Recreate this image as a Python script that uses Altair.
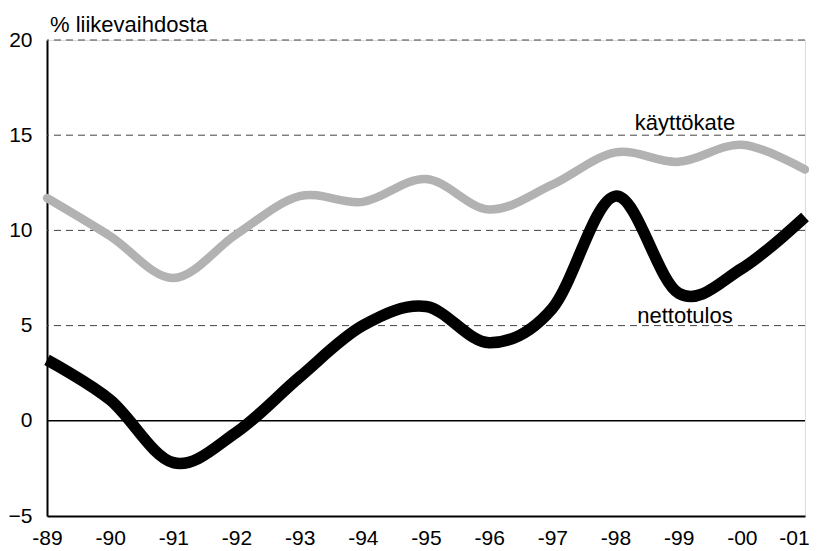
import altair as alt
import pandas as pd

years = ["-89", "-90", "-91", "-92", "-93", "-94", "-95", "-96", "-97", "-98", "-99", "-00", "-01"]
kayttokate = [11.7, 9.7, 7.5, 9.8, 11.8, 11.5, 12.7, 11.1, 12.4, 14.1, 13.6, 14.5, 13.2]
nettotulos = [3.2, 1.1, -2.2, -0.6, 2.3, 5.0, 6.0, 4.1, 5.9, 11.8, 6.7, 8.0, 10.7]
grid_values = [5, 10, 15, 20]
zero_value = [0]
label_texts = ["käyttökate", "nettotulos"]
label_x = [10.1, 10.1]
label_y = [15.25, 5.15]

FONT = "Liberation Sans"

idx = list(range(len(years)))
df = pd.DataFrame({
    "i": idx * 2,
    "v": kayttokate + nettotulos,
    "s": ["käyttökate"] * len(years) + ["nettotulos"] * len(years),
})
grid_df = pd.DataFrame({"g": grid_values})
zero_df = pd.DataFrame({"g": zero_value})
lab_df = pd.DataFrame({"t": label_texts, "x": label_x, "y": label_y})

label_expr = "[" + ",".join("'%s'" % y for y in years) + "][datum.value]"

xscale = alt.Scale(domain=[0, len(years) - 1], nice=False, zero=False)
yscale = alt.Scale(domain=[-5, 20], nice=False, zero=False)

xenc = alt.X("i:Q", scale=xscale, axis=alt.Axis(
    values=idx, labelExpr=label_expr, title=None, grid=False, ticks=False,
    domainColor="black", domainWidth=2, labelFont=FONT, labelFontSize=21,
    labelColor="black", labelPadding=11, labelFlush=False,
    labelOffset={"condition": {"test": "datum.value == %d" % (len(years) - 1), "value": -11},
                 "value": 0}))
yenc = alt.Y("v:Q", scale=yscale, axis=alt.Axis(
    values=[-5, 0, 5, 10, 15, 20], title=None, grid=False, ticks=False,
    domainColor="black", domainWidth=2, labelFont=FONT, labelFontSize=21,
    labelColor="black", labelPadding=15))

grid = alt.Chart(grid_df).mark_rule(color="#444444", strokeWidth=1, strokeDash=[7, 5]).encode(
    y=alt.Y("g:Q", scale=yscale))
zero = alt.Chart(zero_df).mark_rule(color="black", strokeWidth=1.5).encode(
    y=alt.Y("g:Q", scale=yscale))

gray = alt.Chart(df).transform_filter(alt.datum.s == "käyttökate").mark_line(
    interpolate="cardinal", color="#b2b2b2", strokeWidth=8.5, strokeCap="round").encode(
    x=xenc, y=yenc)
black = alt.Chart(df).transform_filter(alt.datum.s == "nettotulos").mark_line(
    interpolate="cardinal", color="black", strokeWidth=11.5, strokeCap="butt").encode(
    x=xenc, y=yenc)

labels = alt.Chart(lab_df).mark_text(font=FONT, fontSize=22, color="black",
                                      align="center", baseline="alphabetic").encode(
    x=alt.X("x:Q", scale=xscale), y=alt.Y("y:Q", scale=yscale), text="t:N")

chart = alt.layer(grid, zero, gray, black, labels).properties(
    width=758, height=476,
    title=alt.TitleParams("% liikevaihdosta", anchor="start", frame="group", font=FONT,
                          fontSize=22, fontWeight="normal", color="black", offset=-8, dx=3),
    autosize=alt.AutoSizeParams(type="none"),
    padding={"left": 39, "top": 32, "right": 4, "bottom": 34},
).configure_view(stroke=None).configure(background="white")

chart.save("out.html", embed_options={"renderer": "svg", "actions": False})
